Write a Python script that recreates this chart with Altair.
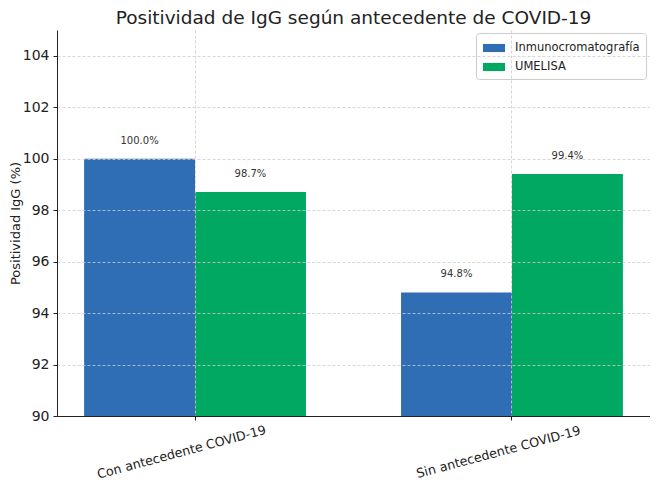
import altair as alt
import pandas as pd

categorias = ["Con antecedente COVID-19", "Sin antecedente COVID-19"]
metodos = ["Inmunocromatografía", "UMELISA"]
inmuno = [100.0, 94.8]
umelisa = [98.7, 99.4]
colores = ["#2F6EB4", "#00A862"]
y_ticks = [90, 92, 94, 96, 98, 100, 102, 104]

rows = []
for i, c in enumerate(categorias):
    rows.append({"cat": c, "metodo": metodos[0], "valor": inmuno[i]})
    rows.append({"cat": c, "metodo": metodos[1], "valor": umelisa[i]})
df = pd.DataFrame(rows)
df["etiqueta"] = df["valor"].map(lambda v: f"{v:.1f}%")

FONT = "DejaVu Sans"

x_enc = alt.X(
    "cat:N",
    sort=categorias,
    scale=alt.Scale(paddingInner=0.3, paddingOuter=0.0855),
    axis=alt.Axis(
        title=None,
        labelAngle=345,
        labelAlign="center",
        labelBaseline="top",
        labelPadding=26,
        labelOffset=-15,
        labelFontSize=12.7,
        labelLimit=400,
        labelColor="#222222",
        tickSize=4,
        tickColor="#222222",
        domainColor="#222222",
        grid=True,
        gridDash=[3, 2],
        gridColor="#cccccc",
        gridWidth=0.8,
        zindex=1,
    ),
)
y_enc = alt.Y(
    "valor:Q",
    scale=alt.Scale(domain=[90, 105], nice=False, zero=False, clamp=True),
    axis=alt.Axis(
        title="Positividad IgG (%)",
        titleFontSize=13,
        titleFontWeight="normal",
        titleColor="#222222",
        titleX=-42,
        titleY=193,
        titleAngle=270,
        titleAlign="center",
        titleBaseline="middle",
        values=y_ticks,
        labelFontSize=14,
        labelColor="#222222",
        labelPadding=4,
        tickSize=4,
        tickColor="#222222",
        domainColor="#222222",
        grid=True,
        gridDash=[3, 2],
        gridColor="#cccccc",
        gridWidth=0.8,
        zindex=1,
    ),
)
xoff = alt.XOffset("metodo:N", sort=metodos)

bars = alt.Chart(df).mark_bar().encode(
    x=x_enc,
    xOffset=xoff,
    y=y_enc,
    y2=alt.datum(90),
    color=alt.Color(
        "metodo:N",
        sort=metodos,
        scale=alt.Scale(domain=metodos, range=colores),
        legend=alt.Legend(
            title=None,
            orient="none",
            legendX=419,
            legendY=3,
            labelFontSize=11.5,
            labelColor="#222222",
            symbolType="M-1.22,-0.45H1.22V0.45H-1.22Z",
            symbolSize=324,
            symbolStrokeWidth=0,
            symbolOpacity=1,
            symbolOffset=3,
            rowPadding=4,
            padding=6,
            labelOffset=12,
            strokeColor="#cccccc",
            fillColor="white",
            cornerRadius=3,
        ),
    ),
)

labels = alt.Chart(df).mark_text(
    fontSize=10, color="#333333", baseline="middle", dy=-18, font=FONT
).encode(
    x=alt.X("cat:N", sort=categorias),
    xOffset=xoff,
    y=alt.Y("valor:Q"),
    text="etiqueta:N",
)

chart = (
    alt.layer(bars, labels)
    .properties(
        width=593,
        height=386,
        title=alt.TitleParams(
            "Positividad de IgG según antecedente de COVID-19",
            fontSize=18.5,
            fontWeight="normal",
            color="#222222",
            anchor="middle",
            offset=3,
        ),
        autosize=alt.AutoSizeParams(type="none"),
        padding={"left": 49, "top": 22, "right": 0, "bottom": 66},
    )
    .configure(font=FONT)
    .configure_view(stroke=None)
)

chart.save("out.html", embed_options={"renderer": "svg", "actions": False})
